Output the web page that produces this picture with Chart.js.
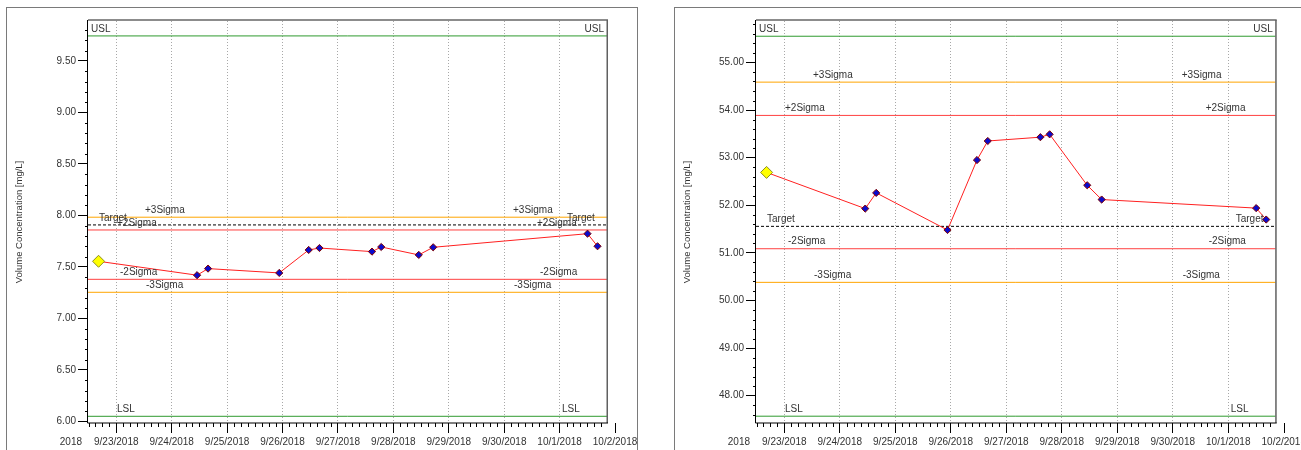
<!DOCTYPE html>
<html><head><meta charset="utf-8">
<script src="https://cdn.jsdelivr.net/npm/chart.js@4.4.0/dist/chart.umd.min.js"></script>
<style>
html,body{margin:0;padding:0;background:#fff;width:1301px;height:450px;overflow:hidden;position:relative;}
.panel{position:absolute;border:1px solid #7a7a7a;background:#fff;box-sizing:border-box;}
#p1{left:6px;top:7px;width:632px;height:470px;}
#p2{left:674px;top:7px;width:660px;height:470px;}
canvas{position:absolute;}
#c1{left:7px;top:8px;}
#c2{left:675px;top:8px;}
</style></head>
<body>
<div class="panel" id="p1"></div>
<div class="panel" id="p2"></div>
<canvas id="c1" width="630" height="442"></canvas>
<canvas id="c2" width="626" height="442"></canvas>
<script>
// ---- data ----
const pointTimes = ['2018-09-22T16:20Z','2018-09-24T11:00Z','2018-09-24T15:45Z','2018-09-25T22:35Z',
  '2018-09-26T11:20Z','2018-09-26T16:00Z','2018-09-27T14:45Z','2018-09-27T18:45Z',
  '2018-09-28T11:00Z','2018-09-28T17:15Z','2018-10-01T12:05Z','2018-10-01T16:25Z'];
const leftValues  = [7.555, 7.420, 7.484, 7.442, 7.665, 7.684, 7.649, 7.694, 7.617, 7.691, 7.823, 7.701];
const rightValues = [52.69, 51.93, 52.26, 51.48, 52.95, 53.35, 53.43, 53.49, 52.42, 52.12, 51.94, 51.70];
const limitNames  = ['USL', '+3Sigma', '+2Sigma', 'Target', '-2Sigma', '-3Sigma', 'LSL'];
const leftLimits  = [9.743, 7.983, 7.859, 7.908, 7.380, 7.254, 6.05];
const rightLimits = [55.55, 54.586, 53.887, 51.557, 51.087, 50.381, 47.57];
const xTickLabels = ['9/23/2018','9/24/2018','9/25/2018','9/26/2018','9/27/2018','9/28/2018','9/29/2018','9/30/2018','10/1/2018','10/2/2018'];
const yearLabel = '2018';
const xStart = '2018-09-23T00:00Z';
const xRange = [-0.51, 8.855];
const leftYRange = [5.985, 9.888];
const rightYRange = [47.427, 55.87];
const yTitle = 'Volume Concentration [mg/L]';

// ---- helpers ----
const FONT = '"Liberation Sans", Arial, sans-serif';
const DAY = 86400000;
const t0 = Date.parse(xStart);
const toDay = s => (Date.parse(s) - t0) / DAY;

const limitColor = {USL:'#2f9a2f', LSL:'#2f9a2f', '+3Sigma':'#ffa500', '-3Sigma':'#ffa500',
  '+2Sigma':'#ff4040', '-2Sigma':'#ff4040', Target:'#000'};
const leftLabelOff = {USL:3, '+3Sigma':57, '+2Sigma':29, Target:11, '-2Sigma':32, '-3Sigma':58, LSL:29};
const rightLabelOff = {USL:-3, '+3Sigma':-94, '+2Sigma':-70, Target:-40, '-2Sigma':-67, '-3Sigma':-93, LSL:-45};

const decor = {
  id: 'decor',
  afterDraw(chart, args, o) {
    const {ctx, chartArea: a, scales: {x, y}} = chart;
    ctx.save();
    const al = v => Math.round(v) + 0.5;
    // minor y ticks
    ctx.strokeStyle = '#000'; ctx.lineWidth = 1;
    ctx.beginPath();
    const ys = o.yMinor;
    for (let k = Math.ceil(y.min / ys - 1e-6); k * ys <= y.max + 1e-9; k++) {
      const v = k * ys;
      if (Math.abs(v / o.yMajor - Math.round(v / o.yMajor)) < 1e-6) continue;
      const py = al(y.getPixelForValue(v));
      ctx.moveTo(a.left - 3, py); ctx.lineTo(a.left, py);
    }
    // minor x ticks
    for (let k = Math.ceil(x.min * 8 - 1e-6); k / 8 <= x.max; k++) {
      if (k % 8 === 0) continue;
      const px = al(x.getPixelForValue(k / 8));
      ctx.moveTo(px, a.bottom); ctx.lineTo(px, a.bottom + 4);
    }
    // extra major tick beyond range
    const lastDay = xTickLabels.length - 1;
    const pxLast = al(x.getPixelForValue(lastDay));
    ctx.moveTo(pxLast, a.bottom); ctx.lineTo(pxLast, a.bottom + 10);
    ctx.stroke();
    // frame
    ctx.lineWidth = 2; ctx.strokeStyle = '#8c8c8c';
    ctx.beginPath(); ctx.moveTo(a.left, a.top - 1); ctx.lineTo(a.right + 1, a.top - 1); ctx.stroke();
    ctx.lineWidth = 1.5; ctx.strokeStyle = '#606060';
    ctx.beginPath(); ctx.moveTo(a.right + 0.25, a.top - 1); ctx.lineTo(a.right + 0.25, a.bottom); ctx.stroke();
    ctx.lineWidth = 1; ctx.strokeStyle = '#000';
    ctx.beginPath(); ctx.moveTo(al(a.left) - 1, a.top - 1); ctx.lineTo(al(a.left) - 1, al(a.bottom) - 1 + 0.5);
    ctx.lineTo(a.right + 1, al(a.bottom) - 1 + 0.5); ctx.stroke();
    // labels under axis
    const item = x.getLabelItems()[0];
    const ty = item.options.translation[1] + (item.textOffset || 0);
    ctx.font = '10px ' + FONT; ctx.fillStyle = '#333';
    ctx.textBaseline = item.options.textBaseline;
    ctx.textAlign = 'center';
    ctx.fillText(xTickLabels[lastDay], x.getPixelForValue(lastDay), ty);
    ctx.textAlign = 'right';
    ctx.fillText(yearLabel, a.left - 6, ty);
    // limit labels
    ctx.textBaseline = 'middle';
    o.limits.forEach((v, i) => {
      const n = limitNames[i];
      const py = y.getPixelForValue(v) - 7;
      ctx.textAlign = 'left';
      ctx.fillText(n, a.left + leftLabelOff[n], py);
      if (n === 'USL') { ctx.textAlign = 'right'; ctx.fillText(n, a.right + rightLabelOff[n], py); }
      else ctx.fillText(n, a.right + rightLabelOff[n], py);
    });
    ctx.restore();
  }
};

function makeChart(id, values, limits, yRange, yMajor, yMinor, padRight, titlePad) {
  const days = pointTimes.map(toDay);
  const datasets = [{
    data: days.map((d, i) => ({x: d, y: values[i]})),
    borderColor: '#ff2020', borderWidth: 1, tension: 0,
    pointStyle: 'rectRot',
    pointRadius: c => c.dataIndex === 0 ? 6 : 3.6,
    pointBackgroundColor: c => c.dataIndex === 0 ? '#ffff00' : '#0a0acc',
    pointBorderColor: c => c.dataIndex === 0 ? '#8c8c20' : '#800000',
    pointBorderWidth: 1
  }];
  limitNames.forEach((n, i) => datasets.push({
    data: [{x: xRange[0], y: limits[i]}, {x: xRange[1], y: limits[i]}],
    borderColor: limitColor[n], borderWidth: 1,
    borderDash: n === 'Target' ? [3, 2] : [],
    pointRadius: 0
  }));
  return new Chart(document.getElementById(id), {
    type: 'line',
    data: {datasets},
    options: {
      responsive: false, animation: false,
      layout: {padding: {top: 13, right: padRight, bottom: 0, left: 0}},
      plugins: {legend: {display: false}, tooltip: {enabled: false},
        decor: {limits, yMajor, yMinor}},
      scales: {
        x: {
          type: 'linear', min: xRange[0], max: xRange[1],
          afterFit(s) { s.height = 27; },
          ticks: {stepSize: 1, includeBounds: false, autoSkip: false, maxRotation: 0, padding: 3,
            color: '#333', font: {family: FONT, size: 10},
            callback: v => xTickLabels[Math.round(v)]},
          grid: {drawOnChartArea: true, color: '#a8a8a8', lineWidth: 1, drawTicks: true,
            tickLength: 10, tickColor: '#000', tickBorderDash: []},
          border: {display: false, dash: [1, 2]}
        },
        y: {
          min: yRange[0], max: yRange[1],
          afterFit(s) { s.width = 81; },
          ticks: {stepSize: yMajor, includeBounds: false, padding: 2, color: '#333',
            font: {family: FONT, size: 10}, callback: v => v.toFixed(2)},
          grid: {drawOnChartArea: false, drawTicks: true, tickLength: 10, tickColor: '#000'},
          border: {display: false},
          title: {display: true, text: yTitle, color: '#333', font: {family: FONT, size: 9.5},
            padding: {top: titlePad, bottom: 0}}
        }
      }
    },
    plugins: [decor]
  });
}

makeChart('c1', leftValues, leftLimits, leftYRange, 0.5, 0.1, 30, 7);
makeChart('c2', rightValues, rightLimits, rightYRange, 1, 0.2, 25.3, 7);
</script>
</body></html>
